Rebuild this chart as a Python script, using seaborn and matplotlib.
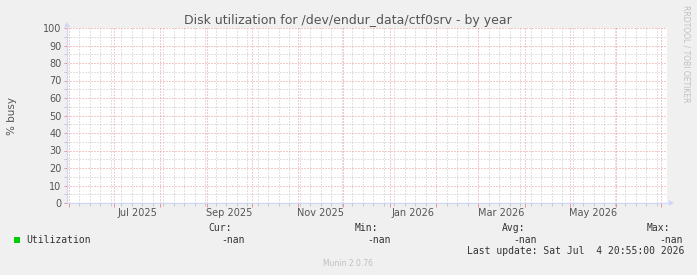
import numpy as np
import pandas as pd
import matplotlib
matplotlib.use("Agg")
import matplotlib.pyplot as plt
import matplotlib.dates as mdates
from matplotlib.ticker import MultipleLocator, NullFormatter
from matplotlib.patches import Rectangle, Polygon
import seaborn as sns
from datetime import datetime, timedelta

# ---------------- data ----------------
title = "Disk utilization for /dev/endur_data/ctf0srv - by year"
ylabel = "% busy"
series_name = "Utilization"
series_color = "#00CC00"
dates = pd.to_datetime(["2025-06-01", "2025-07-01", "2025-08-01", "2025-09-01",
                        "2025-10-01", "2025-11-01", "2025-12-01", "2026-01-01",
                        "2026-02-01", "2026-03-01", "2026-04-01", "2026-05-01",
                        "2026-06-01", "2026-07-01"])
values = [np.nan] * len(dates)          # no data recorded (-nan)
x_label_months = ["2025-07-01", "2025-09-01", "2025-11-01",
                  "2026-01-01", "2026-03-01", "2026-05-01"]
x_tick_labels = ["Jul 2025", "Sep 2025", "Nov 2025", "Jan 2026", "Mar 2026", "May 2026"]
y_ticks = list(range(0, 101, 10))
legend_headers = ["Cur:", "Min:", "Avg:", "Max:"]
legend_values = ["-nan", "-nan", "-nan", "-nan"]
last_update = "Last update: Sat Jul  4 20:55:00 2026"
footer = "Munin 2.0.76"
watermark = "RRDTOOL / TOBI OETIKER"
end_time = datetime(2026, 7, 4, 20, 55)
start_time = end_time - timedelta(days=400)

# ---------------- style ----------------
sns.set_style("white")
plt.rcParams["font.family"] = ["DejaVu Sans"]

W, H = 697, 275
BG = "#F0F0F0"
FONT = "#555555"
AXIS = "#CFD6F8"
GRID = "#c4c4c4"
MGRID = "#e89494"

fig = plt.figure(figsize=(W / 100, H / 100), dpi=100, facecolor=BG)
L, R, T, B = 67, 667, 28, 203
ax = fig.add_axes([L / W, 1 - B / H, (R - L) / W, (B - T) / H])
ax.set_facecolor("white")

def fx(px):
    return px / W

def fy(py):
    return 1 - py / H

df = pd.DataFrame({"time": dates, "value": values})
try:
    sns.lineplot(data=df, x="time", y="value", ax=ax, color=series_color, legend=False)
except Exception:
    ax.plot(df["time"], df["value"], color=series_color)

ax.set_xlim(start_time, end_time)
ax.set_ylim(0, 100)
ax.set_xlabel("")
ax.set_ylabel("")
for s in ax.spines.values():
    s.set_visible(False)

# ticks and grid
ax.xaxis.set_major_locator(mdates.MonthLocator())
ax.xaxis.set_minor_locator(mdates.WeekdayLocator(byweekday=mdates.SU))
ax.xaxis.set_major_formatter(NullFormatter())
ax.yaxis.set_major_locator(MultipleLocator(10))
ax.yaxis.set_minor_locator(MultipleLocator(5))
ax.set_yticks(y_ticks)
ax.set_yticklabels([str(v) for v in y_ticks])

ax.grid(True, which="minor", color=GRID, linewidth=0.72, linestyle=(0, (1, 2)))
ax.grid(True, which="major", color=MGRID, linewidth=0.72, linestyle=(0, (1, 2)))
ax.set_axisbelow(True)
for gl in ax.get_xgridlines() + ax.get_ygridlines():
    gl.set_clip_on(False)

ax.tick_params(axis="x", which="major", bottom=True, length=3, width=0.72,
               color=MGRID, direction="out")
ax.tick_params(axis="x", which="minor", bottom=True, length=2, width=0.72,
               color=GRID, direction="out")
ax.tick_params(axis="y", which="major", left=True, length=2, width=0.72,
               color=MGRID, direction="out", labelsize=7, labelcolor=FONT, pad=2)
ax.tick_params(axis="y", which="minor", left=True, length=2, width=0.72,
               color=GRID, direction="out")

# x labels centred mid-month
trans = ax.get_xaxis_transform()
for m, lab in zip(x_label_months, x_tick_labels):
    d0 = pd.Timestamp(m)
    d1 = d0 + pd.offsets.MonthBegin(1)
    mid = d0 + (d1 - d0) / 2
    ax.text(mid, -0.055, lab, transform=trans, ha="center", va="center",
            fontsize=7, color=FONT)

# axis lines and arrows
fig.add_artist(plt.Line2D([fx(L), fx(R + 3)], [fy(B), fy(B)], color=AXIS, lw=0.9))
fig.add_artist(plt.Line2D([fx(L), fx(L)], [fy(B), fy(T - 2)], color=AXIS, lw=0.9))
fig.add_artist(Polygon([[fx(R + 2), fy(B - 3)], [fx(R + 2), fy(B + 3)], [fx(R + 7), fy(B)]],
                       closed=True, color=AXIS, lw=0))
fig.add_artist(Polygon([[fx(L - 3), fy(T - 1)], [fx(L + 3), fy(T - 1)], [fx(L), fy(T - 6)]],
                       closed=True, color=AXIS, lw=0))

# texts
fig.text(fx(348), fy(24), title, ha="center", va="baseline", fontsize=9, color=FONT)
fig.text(fx(12), fy(116), ylabel, ha="center", va="center", rotation=90,
         fontsize=7.5, color=FONT)
fig.text(fx(686), fy(5), watermark, ha="center", va="top", rotation=270,
         fontsize=5.5, color="#c0c0c0")

mono = "DejaVu Sans Mono"
fig.add_artist(Rectangle((fx(14), fy(243)), 6 / W, 6 / H, transform=fig.transFigure,
                         facecolor=series_color, edgecolor="none"))
fig.text(fx(26), fy(240), series_name, ha="left", va="center", fontsize=7,
         family=mono, color="#333333")
hx = [208, 355, 502, 647]
vx = [221, 367, 513, 659]
for x, h in zip(hx, legend_headers):
    fig.text(fx(x), fy(228), h, ha="left", va="center", fontsize=7, family=mono, color="#333333")
for x, v in zip(vx, legend_values):
    fig.text(fx(x), fy(240), v, ha="left", va="center", fontsize=7, family=mono, color="#333333")
fig.text(fx(684), fy(251), last_update, ha="right", va="center", fontsize=7,
         family=mono, color="#333333")
fig.text(fx(348), fy(264), footer, ha="center", va="center", fontsize=5.5, color="#c0c0c0")

fig.savefig("out.png", dpi=100, facecolor=BG)
